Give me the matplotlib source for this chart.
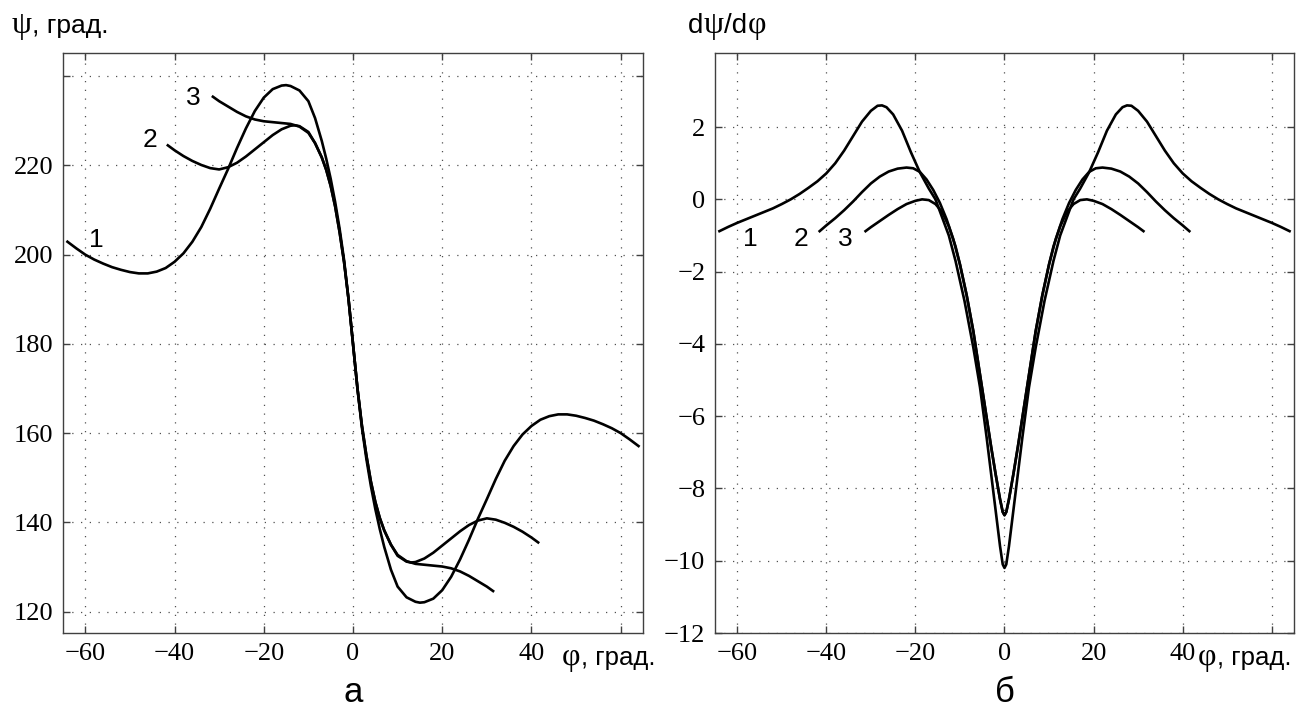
import matplotlib
matplotlib.use("Agg")
import matplotlib.pyplot as plt

# --- panel a: psi(phi), degrees ---
phi_a1 = [-64, -62, -60, -58, -56, -54, -52, -50, -48, -46, -44, -42, -40, -38, -36, -34, -32, -30, -28, -26, -24, -22, -20, -18, -16, -15, -14, -12, -10, -8.5, -7, -6, -5, -4, -3, -2, -1, 0,
          1, 2, 3, 4, 5, 6, 7, 8.5, 10, 12, 14, 15, 16, 18, 20, 22, 24, 26, 28, 30, 32, 34, 36, 38, 40, 42, 44, 46, 48, 50, 52, 54, 56, 58, 60, 62, 64]
psi_a1 = [202.9, 201.4, 200.0, 198.9, 198.0, 197.2, 196.6, 196.1, 195.8, 195.8, 196.2, 197.0, 198.4, 200.3, 202.9, 206.2, 210.3, 214.8, 219.2, 223.9, 228.3, 232.2, 235.2, 237.1, 237.9, 238.0, 237.8, 236.8, 234.4, 230.6, 225.5, 221.5, 217.0, 211.8, 205.8, 198.8, 190.0, 180.0,
          170.0, 161.2, 154.2, 148.2, 143.0, 138.5, 134.5, 129.4, 125.6, 123.2, 122.2, 122.0, 122.1, 122.9, 124.8, 127.8, 131.7, 136.1, 140.8, 145.2, 149.7, 153.8, 157.1, 159.7, 161.6, 163.0, 163.8, 164.2, 164.2, 163.9, 163.4, 162.8, 162.0, 161.1, 160.0, 158.6, 157.1]

phi_a2 = [-41.5, -40, -38, -36, -34, -32, -30, -28, -26, -24, -22, -20, -18, -16, -14, -13, -12, -10, -8.5, -7, -6, -5, -4, -3, -2, -1, 0,
          1, 2, 3, 4, 5, 6, 7, 8.5, 10, 12, 13, 14, 16, 18, 20, 22, 24, 26, 28, 30, 32, 34, 36, 38, 40, 41.5]
psi_a2 = [224.5, 223.4, 222.1, 221.0, 220.1, 219.4, 219.1, 219.6, 220.6, 222.0, 223.6, 225.2, 226.8, 228.1, 228.9, 229.0, 228.8, 227.5, 225.0, 221.8, 219.0, 215.4, 210.8, 205.0, 198.3, 190.0, 180.0,
          170.0, 161.7, 155.0, 149.2, 144.6, 141.0, 138.2, 135.0, 132.5, 131.2, 131.0, 131.1, 131.9, 133.2, 134.8, 136.4, 138.0, 139.4, 140.4, 140.9, 140.6, 139.9, 139.0, 137.9, 136.6, 135.5]

phi_a3 = [-31.4, -30, -28, -26, -24, -22, -20, -18, -16, -14, -12, -10, -8.5, -7, -6, -5, -4, -3, -2, -1, 0,
          1, 2, 3, 4, 5, 6, 7, 8.5, 10, 12, 14, 16, 18, 20, 22, 24, 26, 28, 30, 31.4]
psi_a3 = [235.4, 234.4, 233.2, 232.0, 231.0, 230.3, 229.9, 229.7, 229.5, 229.3, 228.7, 227.3, 225.0, 221.8, 219.0, 215.4, 210.8, 205.0, 198.3, 190.0, 180.0,
          170.0, 161.7, 155.0, 149.2, 144.6, 141.0, 138.2, 135.0, 132.7, 131.3, 130.7, 130.5, 130.3, 130.1, 129.7, 129.0, 128.0, 126.8, 125.6, 124.6]

# --- panel b: dpsi/dphi ---
phi_b1 = [-64, -62, -60, -58, -56, -54, -52, -50, -48, -46, -44, -42, -40, -38, -36, -34, -32, -30, -28.5, -27.5, -26.5, -25, -23, -21, -19, -17, -15.5, -14, -12.5, -11, -9, -7, -5.5, -4, -3, -2, -1, -0.4, 0,
          0.4, 1, 2, 3, 4, 5.5, 7, 9, 11, 12.5, 14, 15.5, 17, 19, 21, 23, 25, 26.5, 27.5, 28.5, 30, 32, 34, 36, 38, 40, 42, 44, 46, 48, 50, 52, 54, 56, 58, 60, 62, 64]
dpsi_b1 = [-0.88, -0.76, -0.65, -0.55, -0.45, -0.35, -0.25, -0.13, 0.0, 0.15, 0.32, 0.50, 0.72, 1.00, 1.35, 1.75, 2.15, 2.45, 2.59, 2.60, 2.55, 2.35, 1.90, 1.30, 0.75, 0.30, 0.0, -0.50, -1.00, -1.70, -2.80, -4.10, -5.20, -6.60, -7.60, -8.60, -9.60, -10.10, -10.20,
           -10.10, -9.60, -8.60, -7.60, -6.60, -5.20, -4.10, -2.80, -1.70, -1.00, -0.50, 0.0, 0.30, 0.75, 1.30, 1.90, 2.35, 2.55, 2.60, 2.59, 2.45, 2.15, 1.75, 1.35, 1.00, 0.72, 0.50, 0.32, 0.15, 0.0, -0.13, -0.25, -0.35, -0.45, -0.55, -0.65, -0.76, -0.88]

phi_b2 = [-41.5, -40, -38, -36, -34, -32, -30, -28, -26, -24, -22, -20.5, -19, -17.5, -16, -14.5, -13, -11.5, -10, -8.5, -7, -5.5, -4, -3, -2, -1, -0.4, 0,
          0.4, 1, 2, 3, 4, 5.5, 7, 8.5, 10, 11.5, 13, 14.5, 16, 17.5, 19, 20.5, 22, 24, 26, 28, 30, 32, 34, 36, 38, 40, 41.5]
dpsi_b2 = [-0.88, -0.72, -0.52, -0.30, -0.06, 0.20, 0.44, 0.63, 0.77, 0.85, 0.88, 0.86, 0.76, 0.55, 0.26, -0.10, -0.55, -1.10, -1.80, -2.65, -3.65, -4.85, -6.05, -6.85, -7.60, -8.30, -8.65, -8.74,
           -8.65, -8.30, -7.60, -6.85, -6.05, -4.85, -3.65, -2.65, -1.80, -1.10, -0.55, -0.10, 0.26, 0.55, 0.76, 0.86, 0.88, 0.85, 0.77, 0.63, 0.44, 0.20, -0.06, -0.30, -0.52, -0.72, -0.88]

phi_b3 = [-31.2, -30, -28, -26, -24, -22, -20, -18.5, -17, -15.5, -14, -12.5, -11, -10, -8.5, -7, -5.5, -4, -3, -2, -1, -0.4, 0,
          0.4, 1, 2, 3, 4, 5.5, 7, 8.5, 10, 11, 12.5, 14, 15.5, 17, 18.5, 20, 22, 24, 26, 28, 30, 31.2]
dpsi_b3 = [-0.88, -0.77, -0.60, -0.43, -0.27, -0.13, -0.04, 0.0, -0.02, -0.13, -0.35, -0.75, -1.30, -1.80, -2.65, -3.65, -4.85, -6.05, -6.85, -7.60, -8.30, -8.65, -8.74,
           -8.65, -8.30, -7.60, -6.85, -6.05, -4.85, -3.65, -2.65, -1.80, -1.30, -0.75, -0.35, -0.13, -0.02, 0.0, -0.04, -0.13, -0.27, -0.43, -0.60, -0.77, -0.88]

x_ticks = [-60, -40, -20, 0, 20, 40, 60]
x_labels = ['\u221260', '\u221240', '\u221220', '0', '20', '40', '']
ya_ticks = [120, 140, 160, 180, 200, 220, 240]
ya_labels = ['120', '140', '160', '180', '200', '220', '']
yb_ticks = [-12, -10, -8, -6, -4, -2, 0, 2]
yb_labels = ['\u221212', '\u221210', '\u22128', '\u22126', '\u22124', '\u22122', '0', '2']

plt.rcParams['font.family'] = 'Liberation Serif'

W, H = 1296, 713
fig = plt.figure(figsize=(W / 100, H / 100), dpi=100)
ax1 = fig.add_axes([63 / W, 1 - 633 / H, 580 / W, 580 / H])
ax2 = fig.add_axes([715 / W, 1 - 633 / H, 579 / W, 580 / H])


def style(ax):
    for s in ax.spines.values():
        s.set_color('#404040')
        s.set_linewidth(1.0)
    ax.tick_params(direction='in', top=True, right=True, length=5, width=1,
                   color='#404040', labelsize=19, pad=7)
    ax.grid(True, color='#505050', linestyle=(0, (1, 6)), linewidth=0.9)
    ax.set_axisbelow(True)


sans = 'Liberation Sans'
serif = 'Liberation Serif'
lw = 1.9

# panel a
ax1.plot(phi_a1, psi_a1, color='black', lw=lw)
ax1.plot(phi_a2, psi_a2, color='black', lw=lw)
ax1.plot(phi_a3, psi_a3, color='black', lw=lw)
ax1.set_xlim(-65, 65)
ax1.set_ylim(115.2, 245.2)
ax1.set_xticks(x_ticks, x_labels)
ax1.set_yticks(ya_ticks, ya_labels)
style(ax1)
for lab, x, y in [('1', -57.5, 203.3), ('2', -45.6, 225.7), ('3', -35.7, 235.1)]:
    ax1.text(x, y, lab, fontsize=19, family=sans, ha='center', va='center')

# panel b
ax2.plot(phi_b1, dpsi_b1, color='black', lw=lw)
ax2.plot(phi_b2, dpsi_b2, color='black', lw=lw)
ax2.plot(phi_b3, dpsi_b3, color='black', lw=lw)
ax2.set_xlim(-65, 65)
ax2.set_ylim(-12, 4.05)
ax2.set_xticks(x_ticks, x_labels)
ax2.set_yticks(yb_ticks, yb_labels)
style(ax2)
for lab, x, y in [('1', -57.1, -1.11), ('2', -45.6, -1.11), ('3', -35.7, -1.11)]:
    ax2.text(x, y, lab, fontsize=19, family=sans, ha='center', va='center')

renderer = fig.canvas.get_renderer()


def caption(px, py, pieces):
    # pieces laid out one after another, measured with the renderer
    x = px
    for s, fam, size in pieces:
        t = fig.text(x / W, 1 - py / H, s, fontsize=size, family=fam,
                     va='baseline', ha='left')
        x = t.get_window_extent(renderer).x1 + 0.5


g = 23  # size of the greek letters
caption(12, 33, [('ψ', serif, g), (', град.', sans, 19)])
caption(688, 33, [('d', sans, 20), ('ψ', serif, g), ('/d', sans, 20), ('φ', serif, g)])
caption(562, 665, [('φ', serif, g), (', град.', sans, 18.5)])
caption(1198, 665, [('φ', serif, g), (', град.', sans, 18.5)])

fig.text(353 / W, 1 - 693 / H, 'а', fontsize=25, family=sans, ha='center', va='center')
fig.text(1005 / W, 1 - 693 / H, 'б', fontsize=25, family=sans, ha='center', va='center')

fig.savefig('out.png', dpi=100)
